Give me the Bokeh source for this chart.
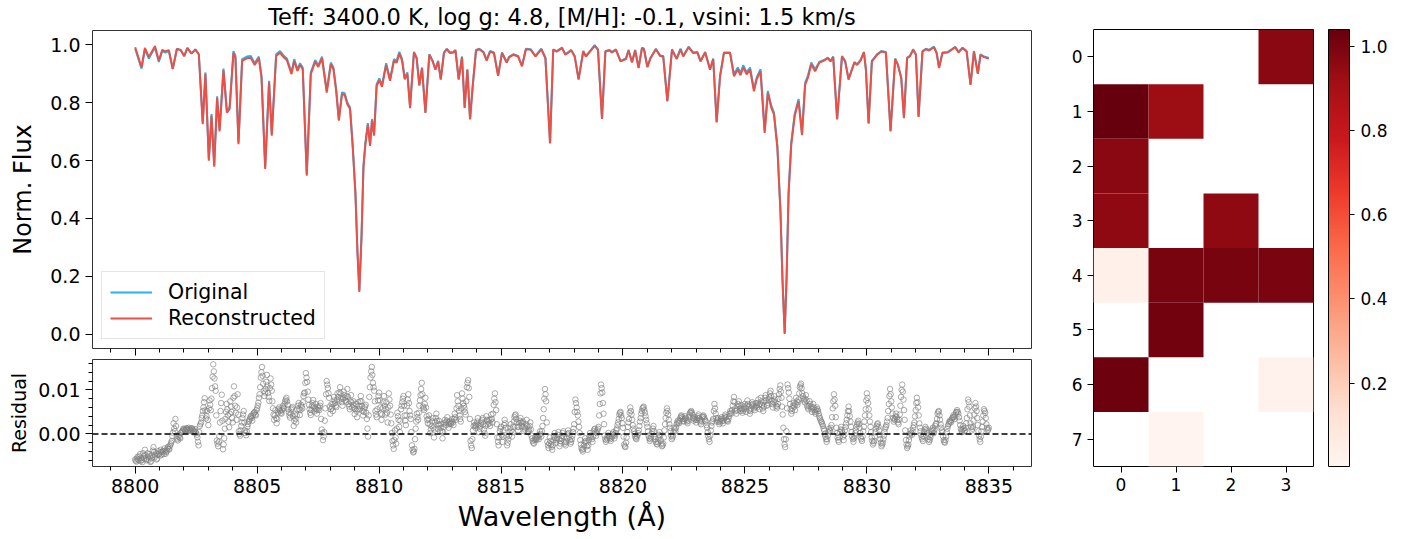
import numpy as np
from bokeh.plotting import figure
from bokeh.layouts import row, column
from bokeh.models import (FixedTicker, PrintfTickFormatter, Legend, LegendItem,
                          LinearColorMapper, ColorBar, Span, Range1d, CustomLabelingPolicy)
from bokeh.embed import file_html
from bokeh.resources import INLINE
from bokeh.palettes import Reds9

# ---------------- data ----------------
wave = [
    8800.00, 8800.26, 8800.40, 8800.56, 8800.81, 8800.97, 8801.11, 8801.24, 8801.38, 8801.54,
    8801.71, 8801.87, 8802.01, 8802.14, 8802.31, 8802.47, 8802.61, 8802.77, 8802.88, 8803.02,
    8803.13, 8803.24, 8803.36, 8803.46, 8803.62, 8803.76, 8803.87, 8804.03, 8804.11, 8804.235,
    8804.385, 8804.58, 8804.74, 8804.90, 8805.07, 8805.18, 8805.33, 8805.49, 8805.60, 8805.78,
    8805.94, 8806.08, 8806.22, 8806.41, 8806.52, 8806.65, 8806.76, 8806.87, 8807.035, 8807.20,
    8807.38, 8807.51, 8807.66, 8807.855, 8808.02, 8808.13, 8808.24, 8808.35, 8808.48, 8808.59,
    8808.70, 8808.81, 8808.92, 8809.03, 8809.11, 8809.19, 8809.28, 8809.36, 8809.44, 8809.54,
    8809.63, 8809.71, 8809.795, 8809.90, 8810.01, 8810.12, 8810.29, 8810.45, 8810.61, 8810.72,
    8810.83, 8810.94, 8811.05, 8811.16, 8811.27, 8811.43, 8811.54, 8811.65, 8811.76, 8811.90,
    8812.06, 8812.20, 8812.31, 8812.42, 8812.53, 8812.66, 8812.77, 8812.91, 8813.05, 8813.13,
    8813.265, 8813.40, 8813.51, 8813.62, 8813.73, 8813.84, 8813.975, 8814.11, 8814.28, 8814.41,
    8814.55, 8814.71, 8814.88, 8815.04, 8815.23, 8815.34, 8815.51, 8815.70, 8815.86, 8816.02,
    8816.22, 8816.41, 8816.65, 8816.82, 8817.01, 8817.14, 8817.28, 8817.50, 8817.64, 8817.88,
    8818.02, 8818.18, 8818.37, 8818.48, 8818.62, 8818.84, 8818.975, 8819.14, 8819.28, 8819.44,
    8819.55, 8819.71, 8819.90, 8820.12, 8820.23, 8820.37, 8820.50, 8820.64, 8820.78, 8820.86,
    8821.00, 8821.13, 8821.35, 8821.52, 8821.65, 8821.82, 8822.01, 8822.20, 8822.36, 8822.47,
    8822.69, 8822.88, 8823.05, 8823.18, 8823.37, 8823.57, 8823.70, 8823.84, 8823.98, 8824.14,
    8824.39, 8824.55, 8824.71, 8824.82, 8824.93, 8825.07, 8825.21, 8825.37, 8825.48, 8825.64,
    8825.81, 8825.94, 8826.08, 8826.19, 8826.33, 8826.46, 8826.54, 8826.63, 8826.71, 8826.79,
    8826.90, 8827.04, 8827.20, 8827.34, 8827.47, 8827.58, 8827.72, 8827.88, 8828.05, 8828.24,
    8828.40, 8828.51, 8828.62, 8828.78, 8828.98, 8829.11, 8829.25, 8829.36, 8829.49, 8829.60,
    8829.74, 8829.88, 8829.96, 8830.07, 8830.205, 8830.42, 8830.59, 8830.78, 8830.97, 8831.16,
    8831.27, 8831.41, 8831.52, 8831.65, 8831.76, 8831.90, 8832.01, 8832.12, 8832.28, 8832.42,
    8832.555, 8832.75, 8832.86, 8832.96, 8833.10, 8833.32, 8833.51, 8833.62, 8833.76, 8833.92,
    8834.09, 8834.25, 8834.39, 8834.55, 8834.66, 8834.80, 8835.00,
]

flux_orig = [
    0.987, 0.918, 0.985, 0.953, 0.991, 0.941, 0.979, 0.974, 0.979, 0.918,
    0.987, 0.983, 0.962, 0.990, 0.971, 0.985, 0.968, 0.732, 0.905, 0.606,
    0.761, 0.585, 0.822, 0.707, 0.918, 0.772, 0.784, 0.979, 0.962, 0.663,
    0.951, 0.960, 0.962, 0.937, 0.960, 0.893, 0.577, 0.876, 0.692, 0.968,
    0.979, 0.964, 0.953, 0.905, 0.951, 0.916, 0.937, 0.922, 0.554, 0.905,
    0.948, 0.930, 0.960, 0.841, 0.939, 0.922, 0.847, 0.744, 0.836, 0.833,
    0.801, 0.784, 0.652, 0.491, 0.295, 0.152, 0.341, 0.583, 0.663, 0.730,
    0.657, 0.744, 0.692, 0.864, 0.884, 0.861, 0.937, 0.882, 0.951, 0.945,
    0.976, 0.953, 0.887, 0.905, 0.787, 0.976, 0.956, 0.861, 0.922, 0.767,
    0.968, 0.945, 0.916, 0.945, 0.882, 0.974, 0.987, 0.974, 0.976, 0.983,
    0.882, 0.960, 0.784, 0.916, 0.744, 0.860, 0.983, 0.987, 0.976, 0.948,
    0.979, 0.974, 0.895, 0.974, 0.941, 0.960, 0.968, 0.962, 0.928, 0.987,
    0.985, 0.962, 0.987, 0.956, 0.661, 0.985, 0.979, 0.991, 0.968, 0.983,
    0.962, 0.882, 0.979, 0.962, 0.976, 0.999, 0.985, 0.746, 0.979, 0.983,
    0.976, 0.985, 0.945, 0.953, 0.983, 0.941, 0.983, 0.922, 0.991, 0.987,
    0.925, 0.956, 0.987, 0.964, 0.962, 0.807, 0.985, 0.953, 0.987, 0.962,
    0.994, 0.974, 0.976, 0.945, 0.976, 0.916, 0.953, 0.734, 0.893, 0.974,
    0.974, 0.899, 0.922, 0.902, 0.930, 0.905, 0.922, 0.847, 0.887, 0.916,
    0.703, 0.841, 0.790, 0.767, 0.652, 0.422, 0.192, 0.004, 0.203, 0.491,
    0.663, 0.761, 0.813, 0.695, 0.870, 0.893, 0.939, 0.916, 0.941, 0.948,
    0.956, 0.945, 0.960, 0.744, 0.962, 0.945, 0.882, 0.910, 0.941, 0.933,
    0.948, 0.976, 0.916, 0.730, 0.945, 0.968, 0.979, 0.976, 0.703, 0.953,
    0.933, 0.887, 0.749, 0.956, 0.962, 0.985, 0.968, 0.753, 0.979, 0.987,
    0.983, 0.994, 0.974, 0.922, 0.974, 0.976, 0.987, 0.994, 0.976, 0.991,
    0.979, 0.864, 0.979, 0.902, 0.968, 0.960, 0.955,
]

flux_recon = [
    0.992, 0.923, 0.990, 0.958, 0.996, 0.946, 0.983, 0.978, 0.982, 0.917,
    0.986, 0.982, 0.961, 0.989, 0.970, 0.984, 0.967, 0.726, 0.899, 0.600,
    0.755, 0.579, 0.816, 0.701, 0.912, 0.766, 0.778, 0.973, 0.956, 0.657,
    0.945, 0.954, 0.956, 0.931, 0.954, 0.887, 0.571, 0.870, 0.686, 0.962,
    0.973, 0.958, 0.947, 0.899, 0.945, 0.910, 0.931, 0.916, 0.548, 0.899,
    0.942, 0.924, 0.954, 0.835, 0.933, 0.916, 0.841, 0.738, 0.830, 0.827,
    0.795, 0.778, 0.646, 0.485, 0.289, 0.146, 0.335, 0.577, 0.657, 0.724,
    0.651, 0.738, 0.686, 0.858, 0.878, 0.855, 0.931, 0.876, 0.945, 0.939,
    0.970, 0.947, 0.881, 0.899, 0.781, 0.974, 0.954, 0.859, 0.920, 0.765,
    0.966, 0.943, 0.914, 0.943, 0.880, 0.972, 0.985, 0.972, 0.974, 0.981,
    0.880, 0.958, 0.782, 0.914, 0.742, 0.858, 0.981, 0.985, 0.974, 0.946,
    0.977, 0.972, 0.893, 0.972, 0.939, 0.958, 0.966, 0.960, 0.926, 0.985,
    0.983, 0.960, 0.985, 0.954, 0.659, 0.983, 0.977, 0.989, 0.966, 0.981,
    0.960, 0.880, 0.977, 0.960, 0.974, 0.997, 0.983, 0.744, 0.977, 0.981,
    0.974, 0.983, 0.943, 0.951, 0.981, 0.939, 0.981, 0.920, 0.989, 0.985,
    0.923, 0.954, 0.985, 0.962, 0.960, 0.805, 0.983, 0.951, 0.985, 0.960,
    0.992, 0.972, 0.974, 0.943, 0.974, 0.914, 0.951, 0.732, 0.891, 0.972,
    0.972, 0.892, 0.915, 0.895, 0.923, 0.898, 0.915, 0.840, 0.880, 0.909,
    0.696, 0.834, 0.783, 0.760, 0.645, 0.415, 0.185, 0.000, 0.196, 0.484,
    0.656, 0.754, 0.806, 0.688, 0.863, 0.886, 0.932, 0.909, 0.939, 0.946,
    0.954, 0.943, 0.958, 0.742, 0.960, 0.943, 0.880, 0.908, 0.939, 0.931,
    0.946, 0.974, 0.914, 0.728, 0.943, 0.966, 0.977, 0.974, 0.701, 0.951,
    0.931, 0.885, 0.747, 0.954, 0.960, 0.983, 0.966, 0.751, 0.977, 0.985,
    0.981, 0.992, 0.972, 0.920, 0.972, 0.974, 0.985, 0.992, 0.974, 0.989,
    0.977, 0.862, 0.977, 0.900, 0.966, 0.958, 0.953,
]

# residual (original - reconstructed), in units of 1e-3
# series A: every 0.05 A from 8800.000 ; series B: every 0.05 A from 8800.025
res_step = 0.05
res_start_a = 8800.0
res_milli_a = [
    -5.8, -6.3, -5.2, -6.0, -4.6, -5.5, -6.4, -5.0, -3.6, -5.7,
    -4.4, -5.9, -5.1, -6.2, -4.8, -3.0, -5.3, -4.4, -5.6, -3.9,
    -4.2, -3.6, -4.7, -4.0, -3.3, -4.5, -3.8, -2.9, -3.5, -2.4,
    -1.6, 0.3, 1.2, 3.4, -0.8, -1.5, -0.2, -1.0, 0.4, 0.8,
    1.1, 0.6, 1.3, 0.9, 1.4, 0.7, 1.2, 1.0, 0.6, 1.1,
    0.2, -0.8, -2.6, 1.8, 2.6, 4.2, 6.0, 8.1, 3.5, 5.2,
    2.0, 7.6, 5.4, 10.4, 15.8, 12.6, 9.8, -1.5, -2.8, -0.5,
    5.2, 8.9, -3.5, -1.0, 3.4, 6.8, 4.2, 1.5, 7.4, 5.0,
    2.6, 10.8, 6.4, 3.2, 9.0, 0.6, -0.4, 1.8, 3.6, 5.2,
    0.8, -0.3, 1.6, 2.8, 3.4, 4.1, 3.0, 4.6, 5.0, 4.2,
    5.8, 7.1, 9.0, 12.8, 15.2, 11.4, 8.6, 10.2, 13.4, 9.3,
    7.5, 12.6, 9.8, 5.8, 3.2, 5.4, 2.4, 4.8, 6.0, 5.2,
    4.6, 6.3, 5.8, 7.4, 8.2, 6.6, 4.9, 3.7, 5.5, 6.1,
    1.8, 4.4, 2.6, 5.6, 7.0, 4.3, 6.6, 5.8, 8.6, 9.4,
    13.8, 11.8, 7.8, 5.6, 4.3, 6.4, 7.7, 5.1, 6.8, 4.6,
    6.2, 5.4, 7.0, 1.0, -1.4, 0.4, 5.8, 12.0, 10.4, 8.2,
    4.6, 6.8, 5.2, 8.4, 7.0, 6.1, 9.2, 7.6, 10.6, 8.0,
    6.4, 9.6, 8.2, 7.3, 10.2, 6.8, 5.6, 8.8, 6.0, 7.4,
    4.5, 6.8, 3.8, 7.2, 5.6, 8.6, 6.3, 4.2, 5.8, 6.6,
    3.4, -0.6, 8.4, 12.8, 15.2, 11.6, 9.8, 5.2, 3.8, 7.6,
    9.4, 6.0, 3.2, 5.8, 8.6, 4.4, 7.2, 2.6, 9.2, 6.4,
    2.4, -1.6, -3.4, 0.8, -2.2, 4.8, 3.2, 0.4, 5.6, 7.2,
    8.6, 4.2, 2.0, 6.4, 9.0, 5.2, 3.4, -2.6, -4.2, -3.4,
    1.2, 4.6, 3.2, 6.4, 8.8, 11.6, 6.2, 5.4, 8.2, 4.0,
    2.4, 4.2, 0.2, 1.8, 3.6, -0.8, 2.8, 4.6, 1.2, 3.0,
    0.6, 2.2, -1.0, 1.6, 3.2, 2.0, 3.8, 1.4, 2.8, 2.2,
    3.4, 2.0, 4.6, 3.2, 8.8, 6.4, 4.2, 2.8, 9.2, 7.0,
    5.8, 4.4, 10.6, 12.2, 8.4, -1.6, -3.2, 0.8, 2.6, 1.4,
    2.2, 3.6, 0.4, 1.8, 2.8, 3.6, 1.0, -0.4, 4.0, 2.2,
    3.2, 1.8, 4.4, 2.6, 6.6, 9.2, 5.4, -0.8, -2.6, 0.6,
    1.6, -1.8, 0.8, 3.2, 1.4, -2.6, -1.2, 0.4, 2.2, -0.6,
    1.6, 3.8, 4.4, 2.6, 0.8, 2.4, 3.6, 1.8, 2.8, 0.6,
    1.4, 3.2, 0.4, 1.0, 2.6, -0.4, -1.6, -2.2, -0.8, -1.4,
    -0.4, -1.2, 0.6, -0.6, 1.8, 5.6, 10.2, 7.4, -1.8, -3.2,
    -0.8, -2.4, -3.6, -1.4, 0.2, -2.0, -1.0, 0.4, -2.8, -1.6,
    -0.4, 0.6, -1.8, -2.6, -1.0, 0.8, -0.6, -2.2, -1.2, 0.4,
    2.2, 7.8, 6.0, 4.2, 1.6, -1.4, -3.2, -4.0, -2.6, -1.0,
    -2.0, -3.6, -1.4, 0.2, -0.8, -1.8, 0.6, 1.2, -0.4, 0.8,
    1.6, 6.8, 11.2, 9.4, 4.6, -0.4, -1.8, -1.0, 0.2, -0.8,
    -1.6, -0.6, 0.4, -1.0, 0.2, 1.2, 2.6, 4.4, 5.0, 3.6,
    1.4, -2.4, -3.0, -0.8, 1.6, 3.4, 6.0, 4.4, 2.0, 0.6,
    -0.6, -1.2, -0.2, 0.8, 2.8, 4.6, 5.8, 6.2, 4.8, 3.2,
    1.6, -0.4, -1.6, -0.8, 0.6, 1.8, -0.6, -1.8, -2.4, -1.0,
    0.4, -1.4, -2.8, -2.2, 0.8, 3.6, 5.8, 4.4, 2.2, 0.6,
    -1.2, -0.4, 1.4, 0.6, 2.2, 3.0, 2.4, 3.6, 4.2, 3.4,
    2.8, 4.0, 3.2, 2.4, 3.8, 4.8, 5.2, 4.4, 3.0, 3.8,
    2.6, 3.6, 4.4, 3.0, 2.2, 3.8, 4.2, 3.4, 2.8, 1.4,
    -0.6, -1.8, 0.8, 2.6, 3.4, 6.8, 4.6, 2.8, 3.6, 2.2,
    3.0, 3.8, 2.4, 3.6, 4.4, 3.2, 2.8, 4.0, 5.2, 4.6,
    6.4, 8.4, 5.8, 4.6, 6.2, 7.4, 5.2, 6.6, 4.8, 5.6,
    6.8, 5.0, 7.6, 6.2, 4.6, 5.8, 7.2, 6.4, 5.4, 7.0,
    6.0, 7.8, 5.6, 8.2, 6.6, 5.2, 7.4, 8.8, 6.4, 7.0,
    8.4, 9.8, 7.6, 6.0, 8.6, 7.2, 5.8, 6.8, 9.0, 11.0,
    8.2, 4.4, -1.2, -3.0, 0.6, 11.2, 9.4, 6.8, 4.6, 5.8,
    7.0, 5.4, 8.2, 6.6, 7.8, 10.6, 11.4, 9.2, 8.0, 7.2,
    8.8, 6.4, 5.6, 7.4, 6.2, 5.0, 6.8, 5.4, 4.6, 6.0,
    5.2, 4.0, 3.2, 2.6, 1.8, 0.8, -0.6, -1.8, -0.4, 1.2,
    0.6, 2.0, 5.8, 9.0, 6.4, 1.4, -0.8, -1.8, 0.4, 1.6,
    0.2, -1.4, 0.8, 2.4, 4.2, 6.2, 4.0, 1.6, -0.6, -1.8,
    -0.4, 0.8, 2.2, 3.0, 1.4, -0.8, -1.6, 0.6, 2.8, 5.6,
    9.2, 7.0, 4.2, 1.6, -0.8, -2.4, -1.6, 0.4, 1.8, 2.4,
    0.8, -1.2, -2.8, -2.0, -0.4, 1.2, 2.0, 3.6, 6.8, 10.2,
    7.4, 4.6, 2.8, 3.4, 4.6, 3.2, 2.2, 4.4, 8.4, 11.2,
    7.8, 3.2, -1.4, -3.2, -2.4, -0.6, 0.8, -0.2, 1.4, 2.6,
    5.4, 8.2, 6.0, 2.4, 0.6, -0.8, -1.6, 0.4, 1.6, 0.8,
    -0.6, -1.8, -0.8, 0.6, 1.4, 0.2, 1.8, 2.4, 4.6, 5.2,
    3.2, 1.4, 0.4, -1.4, -2.0, -0.6, 1.2, 2.2, 3.0, 2.6,
    3.6, 4.2, 3.4, 4.8, 5.4, 4.6, 3.0, 1.2, 0.4, 1.8,
    0.6, 1.4, 3.6, 7.8, 6.2, 2.4, 0.8, 1.6, 4.4, 7.0,
    5.2, 2.0, -0.4, -1.8, 0.6, 2.8, 5.6, 4.8, 2.2, 0.8,
    1.4,
]
res_start_b = 8800.025
res_milli_b = [
    -6.1, -5.6, -5.8, -5.1, -6.2, -5.9, -4.4, -5.6, -4.9, -6.0,
    -5.2, -4.6, -6.4, -5.5, -3.8, -4.1, -4.9, -5.8, -4.7, -4.6,
    -4.9, -4.1, -3.9, -4.6, -3.8, -4.1, -3.2, -3.4, -2.8, -2.0,
    -0.5, 2.4, 0.6, 1.8, -1.2, -0.6, -0.8, 0.2, 0.5, 1.2,
    0.9, 1.0, 1.2, 0.8, 1.1, 0.9, 1.3, 0.4, 0.8, 0.4,
    -0.2, -1.8, 0.4, 2.2, 3.6, 5.2, 7.2, 5.4, 4.0, 3.2,
    5.8, 6.6, 8.0, 13.0, 14.2, 10.8, 4.2, -2.2, -1.8, 2.6,
    7.0, 3.0, -2.4, 1.2, 5.0, 5.6, 2.8, 4.6, 6.2, 3.6,
    8.2, 8.6, 4.8, 6.0, 4.4, 0.0, 0.8, 2.6, 4.4, 2.6,
    0.2, 0.6, 2.2, 3.0, 3.8, 3.6, 4.2, 4.8, 4.4, 5.4,
    6.4, 8.2, 10.6, 14.0, 13.2, 9.8, 9.4, 11.8, 11.0, 8.4,
    10.4, 11.2, 7.4, 4.4, 4.2, 3.6, 3.4, 5.6, 5.4, 4.8,
    5.4, 6.0, 6.8, 7.8, 7.4, 5.6, 4.2, 4.6, 5.8, 4.0,
    3.0, 3.4, 4.2, 6.4, 5.6, 5.4, 6.2, 7.2, 9.2, 11.6,
    12.8, 9.6, 6.6, 4.8, 5.4, 7.0, 6.2, 5.8, 5.6, 5.4,
    5.8, 6.4, 3.4, 0.2, -0.6, 3.0, 9.0, 11.2, 9.2, 6.2,
    5.6, 6.0, 6.8, 7.6, 6.4, 7.8, 8.4, 9.4, 9.2, 7.2,
    8.0, 8.8, 7.6, 8.6, 8.4, 6.2, 7.4, 7.2, 6.6, 5.8,
    5.6, 5.2, 5.6, 6.4, 7.4, 7.4, 5.2, 5.0, 6.2, 4.8,
    1.2, 4.2, 10.6, 14.2, 13.4, 10.6, 7.4, 4.4, 5.6, 8.6,
    7.6, 4.6, 4.4, 7.2, 6.4, 5.6, 4.8, 6.0, 7.8, 4.4,
    0.2, -2.6, -1.4, -0.8, 1.2, 4.0, 1.6, 3.0, 6.4, 8.0,
    6.4, 3.0, 4.2, 7.8, 7.0, 4.2, 0.4, -3.6, -4.0, -1.2,
    2.8, 3.8, 4.8, 7.6, 10.2, 9.0, 5.8, 6.8, 6.0, 3.2,
    3.4, 2.2, 1.0, 2.8, 1.4, 1.0, 3.6, 3.0, 2.2, 2.0,
    1.4, 0.6, 0.4, 2.4, 2.6, 3.0, 2.6, 2.2, 2.4, 2.8,
    2.6, 3.4, 3.8, 5.8, 7.4, 5.2, 3.4, 5.8, 8.0, 6.4,
    5.0, 7.4, 11.6, 10.4, 3.4, -2.6, -1.2, 1.8, 2.0, 1.8,
    2.8, 2.0, 1.2, 2.4, 3.2, 2.2, 0.2, 1.8, 3.2, 2.8,
    2.4, 3.2, 3.4, 4.6, 8.0, 7.2, 2.2, -1.8, -0.8, 1.2,
    -0.2, -0.6, 2.0, 2.4, -0.6, -2.0, -0.4, 1.4, 0.8, 0.4,
    2.8, 4.2, 3.4, 1.6, 1.6, 3.0, 2.6, 2.4, 1.6, 1.0,
    2.2, 1.8, 0.6, 1.8, 1.0, -1.0, -2.0, -1.4, -1.2, -0.8,
    -0.8, -0.2, 0.0, 0.6, 3.6, 8.0, 9.0, 2.6, -2.6, -2.2,
    -1.6, -3.0, -2.6, -0.6, -1.0, -1.4, -0.2, -1.2, -2.2, -1.0,
    0.2, -0.6, -2.2, -1.8, 0.0, 0.2, -1.4, -1.8, -0.4, 1.2,
    5.0, 7.0, 5.0, 2.8, 0.2, -2.4, -3.6, -3.4, -1.8, -1.6,
    -2.8, -2.6, -0.6, -0.4, -1.2, -0.6, 1.0, 0.4, 0.2, 1.2,
    4.2, 9.2, 10.4, 7.0, 2.2, -1.2, -1.4, -0.4, -0.4, -1.2,
    -1.0, 0.0, -0.2, -0.4, 0.8, 2.0, 3.4, 4.8, 4.2, 2.4,
    -0.6, -2.8, -2.0, 0.4, 2.6, 4.8, 5.2, 3.2, 1.2, 0.0,
    -1.0, -0.6, 0.2, 1.8, 3.6, 5.2, 6.0, 5.4, 4.0, 2.4,
    0.6, -1.0, -1.2, 0.0, 1.2, 0.6, -1.2, -2.2, -1.8, -0.2,
    -0.4, -2.2, -2.6, -0.8, 2.2, 4.8, 5.2, 3.2, 1.4, -0.4,
    -0.8, 0.4, 1.0, 1.4, 2.6, 2.6, 3.0, 4.0, 3.8, 3.0,
    3.4, 3.6, 2.8, 3.0, 4.4, 5.0, 4.8, 3.6, 3.4, 3.2,
    3.2, 4.0, 3.6, 2.6, 3.0, 4.0, 3.8, 3.0, 2.0, 0.4,
    -1.2, -0.4, 1.8, 3.0, 5.2, 5.8, 3.6, 3.2, 2.8, 2.6,
    3.4, 3.0, 3.0, 4.0, 3.8, 3.0, 3.4, 4.6, 4.8, 5.4,
    7.4, 7.2, 5.2, 5.4, 6.8, 6.4, 5.8, 5.6, 5.2, 6.2,
    5.8, 6.4, 6.8, 5.4, 5.2, 6.6, 6.8, 5.8, 6.2, 6.4,
    7.0, 6.6, 6.8, 7.4, 5.8, 6.2, 8.2, 7.6, 6.6, 7.8,
    9.2, 8.6, 6.8, 7.2, 7.8, 6.4, 6.2, 8.0, 10.2, 9.6,
    6.2, 1.4, -2.4, -1.2, 5.8, 10.4, 8.0, 5.6, 5.2, 6.4,
    6.2, 6.8, 7.4, 7.2, 9.2, 11.0, 10.4, 8.6, 7.6, 8.0,
    7.6, 6.0, 6.4, 6.8, 5.6, 6.0, 6.0, 5.0, 5.4, 5.6,
    4.6, 3.6, 2.8, 2.2, 1.2, 0.0, -1.2, -1.2, 0.4, 0.8,
    1.4, 3.8, 7.4, 7.8, 3.8, 0.2, -1.4, -0.8, 1.0, 0.8,
    -0.6, -0.2, 1.6, 3.2, 5.2, 5.2, 2.8, 0.4, -1.2, -1.0,
    0.2, 1.6, 2.6, 2.2, 0.2, -1.2, -0.6, 1.6, 4.2, 7.6,
    8.2, 5.6, 2.8, 0.4, -1.6, -2.0, -0.6, 1.2, 2.2, 1.6,
    -0.2, -2.0, -2.4, -1.2, 0.4, 1.6, 2.8, 5.2, 8.6, 9.0,
    6.0, 3.6, 3.2, 4.0, 3.8, 2.6, 3.2, 6.4, 10.0, 9.6,
    5.4, 0.8, -2.4, -2.8, -1.4, 0.0, 0.2, 0.6, 2.0, 4.0,
    7.0, 7.2, 4.2, 1.4, -0.2, -1.2, -0.6, 1.0, 1.2, 0.2,
    -1.2, -1.4, -0.2, 1.0, 0.8, 1.0, 2.2, 3.4, 5.0, 4.2,
    2.2, 0.8, -0.6, -1.8, -1.4, 0.4, 1.8, 2.6, 2.8, 3.2,
    3.8, 3.8, 4.2, 5.0, 5.0, 3.8, 2.0, 0.8, 1.0, 1.2,
    0.8, 2.4, 5.6, 7.2, 4.2, 1.6, 1.2, 3.0, 5.8, 6.2,
    3.6, 0.6, -1.2, -0.6, 1.6, 4.2, 5.2, 3.6, 1.4, 1.0,
]

# heatmap (rows 0..7, cols 0..3); None = empty cell
heat_values = [
    [None, None, None, 0.97],
    [1.04, 0.93, None, None],
    [0.97, None, None, None],
    [0.96, None, 0.96, None],
    [0.03, 1.01, 1.01, 1.00],
    [None, 1.02, None, None],
    [1.03, None, None, 0.02],
    [None, 0.01, None, None],
]
heat_low, heat_high = 0.002, 1.04

title_text = "Teff: 3400.0 K, log g: 4.8, [M/H]: -0.1, vsini: 1.5 km/s"
FONT = "DejaVu Sans"
BLUE = "#29b0f0"
RED = "#ea5045"

# ---------------- helpers ----------------
def style_axis(ax, size):
    ax.major_label_text_font = FONT
    ax.major_label_text_font_size = size
    ax.major_label_text_color = "black"
    ax.axis_label_text_font = FONT
    ax.axis_label_text_font_style = "normal"
    ax.axis_label_text_color = "black"
    ax.axis_line_color = None
    ax.major_tick_line_color = "black"
    ax.minor_tick_line_color = "black"
    ax.major_tick_in = 0
    ax.major_tick_out = 7
    ax.minor_tick_in = 0
    ax.minor_tick_out = 4


def make_palette(anchors, n):
    rgb = [tuple(int(h[i:i + 2], 16) for i in (1, 3, 5)) for h in anchors]
    out = []
    for k in range(n):
        t = k / (n - 1) * (len(rgb) - 1)
        i = min(int(t), len(rgb) - 2)
        f = t - i
        c = [round(rgb[i][j] + (rgb[i + 1][j] - rgb[i][j]) * f) for j in range(3)]
        out.append("#%02x%02x%02x" % tuple(c))
    return out

x_major = [8800, 8805, 8810, 8815, 8820, 8825, 8830, 8835]
x_minor = list(range(8799, 8837))
xr = Range1d(8798.25, 8836.75)

# ---------------- top panel ----------------
p1 = figure(width=1040, height=359, x_range=xr, y_range=Range1d(-0.05, 1.05),
            output_backend="svg", toolbar_location=None,
            min_border_left=92, min_border_right=9, min_border_top=30, min_border_bottom=10)
p1.title.text = title_text
p1.title.align = "center"
p1.title.text_font = FONT
p1.title.text_font_size = "22.5px"
p1.title.text_font_style = "normal"
p1.title.text_color = "black"
p1.title.standoff = 2
p1.grid.visible = False
p1.outline_line_color = "#333333"
p1.outline_line_width = 1

l1 = p1.line(wave, flux_orig, line_color=BLUE, line_width=2)
l2 = p1.line(wave, flux_recon, line_color=RED, line_width=2)

style_axis(p1.xaxis[0], "1px")
p1.xaxis.ticker = FixedTicker(ticks=x_major, minor_ticks=x_minor)
p1.xaxis.major_label_standoff = 0
p1.xaxis.axis_label_standoff = 0
p1.xaxis.major_label_policy = CustomLabelingPolicy(
    code="for (const i of indices) { indices.unset(i) }\nreturn indices")
style_axis(p1.yaxis[0], "19px")
p1.yaxis.ticker = FixedTicker(ticks=[0.0, 0.2, 0.4, 0.6, 0.8, 1.0], minor_ticks=[])
p1.yaxis.formatter = PrintfTickFormatter(format="%.1f")
p1.yaxis.axis_label = "Norm. Flux"
p1.yaxis.axis_label_text_font_size = "24px"
p1.yaxis.axis_label_standoff = 10

legend = Legend(items=[LegendItem(label="Original", renderers=[l1]),
                       LegendItem(label="Reconstructed", renderers=[l2])],
                location="bottom_left")
legend.label_text_font = FONT
legend.label_text_font_size = "20.5px"
legend.label_text_color = "black"
legend.glyph_width = 42
legend.glyph_height = 22
legend.label_standoff = 16
legend.padding = 8
legend.spacing = 2
legend.margin = 9
legend.border_line_color = "#cccccc"
legend.background_fill_alpha = 0.85
p1.add_layout(legend)

# ---------------- residual panel ----------------
res_wave = ([round(res_start_a + res_step * i, 3) for i in range(len(res_milli_a))] +
            [round(res_start_b + res_step * i, 3) for i in range(len(res_milli_b))])
resid = [v * 1e-3 for v in res_milli_a + res_milli_b]

p2 = figure(width=1040, height=180, x_range=xr, y_range=Range1d(-0.0074, 0.0169),
            output_backend="svg", toolbar_location=None,
            min_border_left=92, min_border_right=9, min_border_top=0, min_border_bottom=73)
p2.grid.visible = False
p2.outline_line_color = "#333333"
p2.outline_line_width = 1
p2.scatter(res_wave, resid, marker="circle", size=5.5, fill_color=None,
           line_color="#808080", line_alpha=0.65, line_width=1)
p2.add_layout(Span(location=0.0, dimension="width", line_color="black",
                   line_dash="6 3", line_width=1.5))
style_axis(p2.xaxis[0], "19px")
p2.xaxis.ticker = FixedTicker(ticks=x_major, minor_ticks=x_minor)
p2.xaxis.axis_label = "Wavelength (Å)"
p2.xaxis.axis_label_text_font_size = "27px"
p2.xaxis.axis_label_standoff = 5
style_axis(p2.yaxis[0], "19px")
p2.yaxis.ticker = FixedTicker(ticks=[0.0, 0.01],
                              minor_ticks=[-0.006, -0.004, -0.002, 0.002, 0.004, 0.006, 0.008,
                                           0.012, 0.014, 0.016])
p2.yaxis.formatter = PrintfTickFormatter(format="%.2f")
p2.yaxis.axis_label = "Residual"
p2.yaxis.axis_label_text_font_size = "19px"

# ---------------- heatmap ----------------
cells_x, cells_y, cells_v = [], [], []
for r, vals in enumerate(heat_values):
    for c, v in enumerate(vals):
        if v is not None:
            cells_x.append(c)
            cells_y.append(r)
            cells_v.append(v)

palette = make_palette(list(reversed(Reds9)), 256)
mapper = LinearColorMapper(palette=palette, low=heat_low, high=heat_high)

p3 = figure(width=274, height=539, x_range=Range1d(-0.5, 3.5), y_range=Range1d(7.5, -0.5),
            output_backend="svg", toolbar_location=None,
            min_border_left=53, min_border_right=1, min_border_top=29, min_border_bottom=73)
p3.grid.visible = False
p3.outline_line_color = "black"
p3.rect(x=cells_x, y=cells_y, width=1, height=1,
        fill_color=[palette[min(255, max(0, int((v - heat_low) / (heat_high - heat_low) * 255)))]
                    for v in cells_v],
        line_color=None)
style_axis(p3.xaxis[0], "17px")
style_axis(p3.yaxis[0], "17px")
p3.xaxis.ticker = FixedTicker(ticks=[0, 1, 2, 3], minor_ticks=[])
p3.yaxis.ticker = FixedTicker(ticks=list(range(8)), minor_ticks=[])
p3.xaxis.major_tick_out = 6
p3.yaxis.major_tick_out = 6

# ---------------- colorbar ----------------
p4 = figure(width=94, height=539, x_range=Range1d(0, 1), y_range=Range1d(0, 1),
            output_backend="svg", toolbar_location=None,
            min_border_left=14, min_border_right=0, min_border_top=29, min_border_bottom=73)
p4.grid.visible = False
p4.axis.visible = False
p4.outline_line_color = None
cb = ColorBar(color_mapper=mapper, location=(0, 0), width=21, height=437,
              padding=0, margin=0,
              ticker=FixedTicker(ticks=[0.2, 0.4, 0.6, 0.8, 1.0]),
              formatter=PrintfTickFormatter(format="%.1f"),
              major_label_text_font=FONT, major_label_text_font_size="17px",
              major_label_text_color="black",
              major_tick_in=0, major_tick_out=5, major_tick_line_color="black",
              minor_tick_line_color=None,
              bar_line_color="black", border_line_color=None, background_fill_color=None,
              label_standoff=6)
p4.add_layout(cb, "center")

layout = row(column(p1, p2), p3, p4)
open("out.html", "w").write(file_html(layout, INLINE))
